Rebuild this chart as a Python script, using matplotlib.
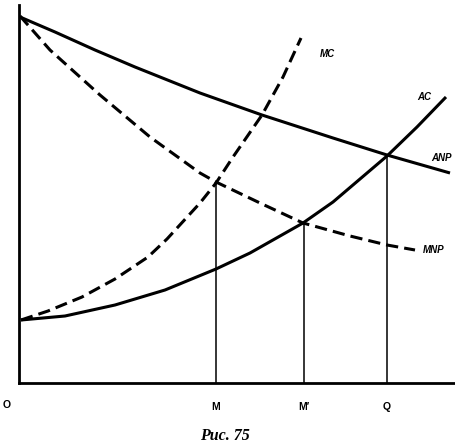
import matplotlib.pyplot as plt

# Values (axis units: origin at O)
anp_x = [1, 36, 76, 116, 181, 243, 314, 368, 431]
anp_y = [366, 351, 333, 316, 290, 268, 245, 228, 210]

mnp_x = [1, 31, 81, 131, 181, 197, 241, 284, 331, 368, 396]
mnp_y = [367, 333, 288, 246, 210, 201, 180, 160, 147, 138, 133]

mc_x = [2, 29, 63, 96, 129, 148, 181, 197, 214, 243, 264, 282]
mc_y = [63, 72, 86, 104, 126, 144, 180, 200, 226, 268, 306, 345]

ac_x = [2, 46, 96, 146, 197, 231, 284, 314, 368, 398, 427]
ac_y = [63, 67, 78, 93, 114, 130, 160, 181, 227, 256, 286]

# drop lines: M, M', Q
drop_x = [197, 285, 368]
drop_top = [201, 160, 228]
drop_labels = ["M", "M\u2032", "Q"]

curve_labels = {
    "MC": (301, 329),
    "AC": (398, 286),
    "ANP": (412, 225),
    "MNP": (404, 133),
}

fig = plt.figure(figsize=(4.55, 4.44), dpi=100)
ax = fig.add_axes([19 / 455, 61 / 444, 436 / 455, 383 / 444])
ax.set_xlim(0, 436)
ax.set_ylim(0, 383)

lw = 2.2
ax.plot(anp_x, anp_y, color="black", lw=lw, solid_capstyle="butt",
        solid_joinstyle="round")
ax.plot(ac_x, ac_y, color="black", lw=lw, solid_capstyle="butt",
        solid_joinstyle="round")
ax.plot(mnp_x, mnp_y, color="black", lw=lw, dashes=(4, 2))
ax.plot(mc_x, mc_y, color="black", lw=lw, dashes=(4, 2))
ax.vlines(drop_x, 0, drop_top, color="black", lw=1.1)

for name, (x, y) in curve_labels.items():
    ax.text(x, y, name, family="Liberation Sans", fontsize=7,
            fontstyle="italic", fontweight="bold", ha="left", va="center")

for s in ["top", "right"]:
    ax.spines[s].set_visible(False)
ax.spines["left"].set_linewidth(2)
ax.spines["bottom"].set_linewidth(2)
ax.spines["left"].set_bounds(0, 378)

ax.set_xticks(drop_x, drop_labels, family="Liberation Sans", fontsize=7.5,
              fontweight="bold")
ax.tick_params(axis="x", length=0, pad=14)
ax.set_yticks([])
ax.text(-12, -22, "O", family="Liberation Sans", fontsize=7.5,
        fontweight="bold", ha="center", va="center")

fig.text(225 / 455, 1 - 436 / 444, "Рис. 75", family="Liberation Serif",
         fontsize=11.5, fontweight="bold", fontstyle="italic",
         ha="center", va="center")

fig.savefig("out.png", dpi=100)
